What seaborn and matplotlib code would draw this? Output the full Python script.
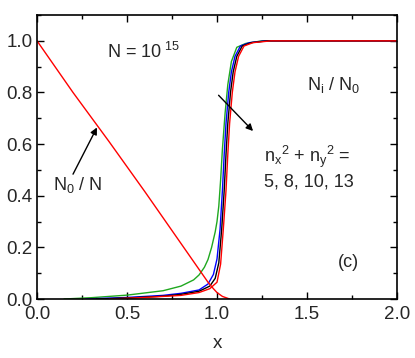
import numpy as np
import pandas as pd
import matplotlib
matplotlib.use("Agg")
import matplotlib.pyplot as plt
import seaborn as sns
from matplotlib.ticker import MultipleLocator

# N0/N (red, decreasing)
x_n0 = [0.0, 0.2, 0.4, 0.6, 0.8, 0.9, 0.95, 0.98, 1.0, 1.03, 1.07]
y_n0 = [1.0, 0.80, 0.61, 0.415, 0.215, 0.115, 0.065, 0.04, 0.025, 0.01, 0.0]

# Ni/N0 curves for nx^2+ny^2 = 5, 8, 10, 13
x_green = [0.15, 0.3, 0.5, 0.7, 0.8, 0.87, 0.9, 0.93, 0.95, 0.97, 0.99, 1.0, 1.01, 1.02, 1.03, 1.045, 1.06, 1.08, 1.11, 1.16, 1.25, 2.0]
y_green = [0.0, 0.005, 0.015, 0.032, 0.05, 0.074, 0.093, 0.123, 0.153, 0.2, 0.26, 0.3, 0.36, 0.46, 0.58, 0.72, 0.83, 0.92, 0.975, 0.99, 1.0, 1.0]
x_blue = [0.27, 0.5, 0.7, 0.8, 0.9, 0.95, 0.98, 1.0, 1.017, 1.03, 1.04, 1.05, 1.065, 1.08, 1.1, 1.13, 1.18, 1.27, 2.0]
y_blue = [0.0, 0.006, 0.014, 0.022, 0.035, 0.058, 0.095, 0.155, 0.27, 0.42, 0.56, 0.68, 0.8, 0.88, 0.94, 0.98, 0.993, 1.0, 1.0]
x_black = [0.33, 0.5, 0.7, 0.8, 0.9, 0.96, 0.99, 1.01, 1.026, 1.04, 1.05, 1.06, 1.075, 1.09, 1.11, 1.14, 1.19, 1.28, 2.0]
y_black = [0.0, 0.004, 0.011, 0.018, 0.03, 0.05, 0.08, 0.14, 0.27, 0.42, 0.56, 0.68, 0.8, 0.88, 0.94, 0.98, 0.993, 1.0, 1.0]
x_red = [0.4, 0.6, 0.8, 0.9, 0.96, 1.0, 1.02, 1.035, 1.05, 1.06, 1.07, 1.085, 1.1, 1.12, 1.15, 1.2, 1.3, 2.0]
y_red = [0.0, 0.006, 0.014, 0.025, 0.04, 0.065, 0.135, 0.27, 0.42, 0.56, 0.68, 0.8, 0.88, 0.94, 0.98, 0.993, 1.0, 1.0]

sns.set_style("ticks")
plt.rcParams["font.family"] = ["Liberation Sans", "DejaVu Sans"]
plt.rcParams["mathtext.fontset"] = "custom"
plt.rcParams["mathtext.rm"] = "Liberation Sans"
plt.rcParams["mathtext.it"] = "Liberation Sans"

fig = plt.figure(figsize=(4.15, 3.58), dpi=100)
ax = fig.add_axes([0.0892, 0.1648, 0.8674, 0.7932])

curves = [(x_green, y_green, "#1fa81f"), (x_blue, y_blue, "#0000ff"),
          (x_black, y_black, "black"), (x_red, y_red, "#ff0000"),
          (x_n0, y_n0, "#ff0000")]
for xs, ys, c in curves:
    df = pd.DataFrame({"x": xs, "y": ys})
    sns.lineplot(data=df, x="x", y="y", color=c, lw=1.0, sort=False, ax=ax)

ax.set_xlim(0, 2.0)
ax.set_ylim(0, 1.1)
ax.xaxis.set_major_locator(MultipleLocator(0.5))
ax.xaxis.set_minor_locator(MultipleLocator(0.25))
ax.yaxis.set_major_locator(MultipleLocator(0.2))
ax.yaxis.set_minor_locator(MultipleLocator(0.1))
ax.tick_params(which="both", direction="in", top=True, right=True, labelsize=13.5,
               color="black", width=1.0)
ax.tick_params(which="major", length=5)
ax.tick_params(axis="x", which="major", pad=5)
ax.tick_params(axis="y", which="major", pad=3)
ax.tick_params(which="minor", length=3)
for s in ax.spines.values():
    s.set_linewidth(1.2)
    s.set_color("black")
ax.set_xlabel("x", fontsize=13.5, labelpad=9)
ax.set_ylabel("")

ax.text(0.39, 0.958, "N = 10$^{\\mathrm{\\ 15}}$", fontsize=13, va="center")
ax.text(1.5, 0.83, "N$_{\\mathrm{i}}$ / N$_{\\mathrm{0}}$", fontsize=13, va="center")
ax.text(1.26, 0.55, "n$_{\\mathrm{x}}$$^{\\mathrm{2}}$ + n$_{\\mathrm{y}}$$^{\\mathrm{2}}$ =", fontsize=13, va="center")
ax.text(1.26, 0.453, "5, 8, 10, 13", fontsize=13, va="center")
ax.text(1.73, 0.14, "(c)", fontsize=13, va="center", ha="center")
ax.text(0.09, 0.44, "N$_{\\mathrm{0}}$ / N", fontsize=13, va="center")

ax.annotate("", xy=(1.211, 0.643), xytext=(0.998, 0.797),
            arrowprops=dict(arrowstyle="-|>", color="black", lw=1.0, mutation_scale=10))
ax.annotate("", xy=(0.34, 0.674), xytext=(0.193, 0.474),
            arrowprops=dict(arrowstyle="-|>", color="black", lw=1.0, mutation_scale=10))

fig.savefig("out.png", dpi=100)
